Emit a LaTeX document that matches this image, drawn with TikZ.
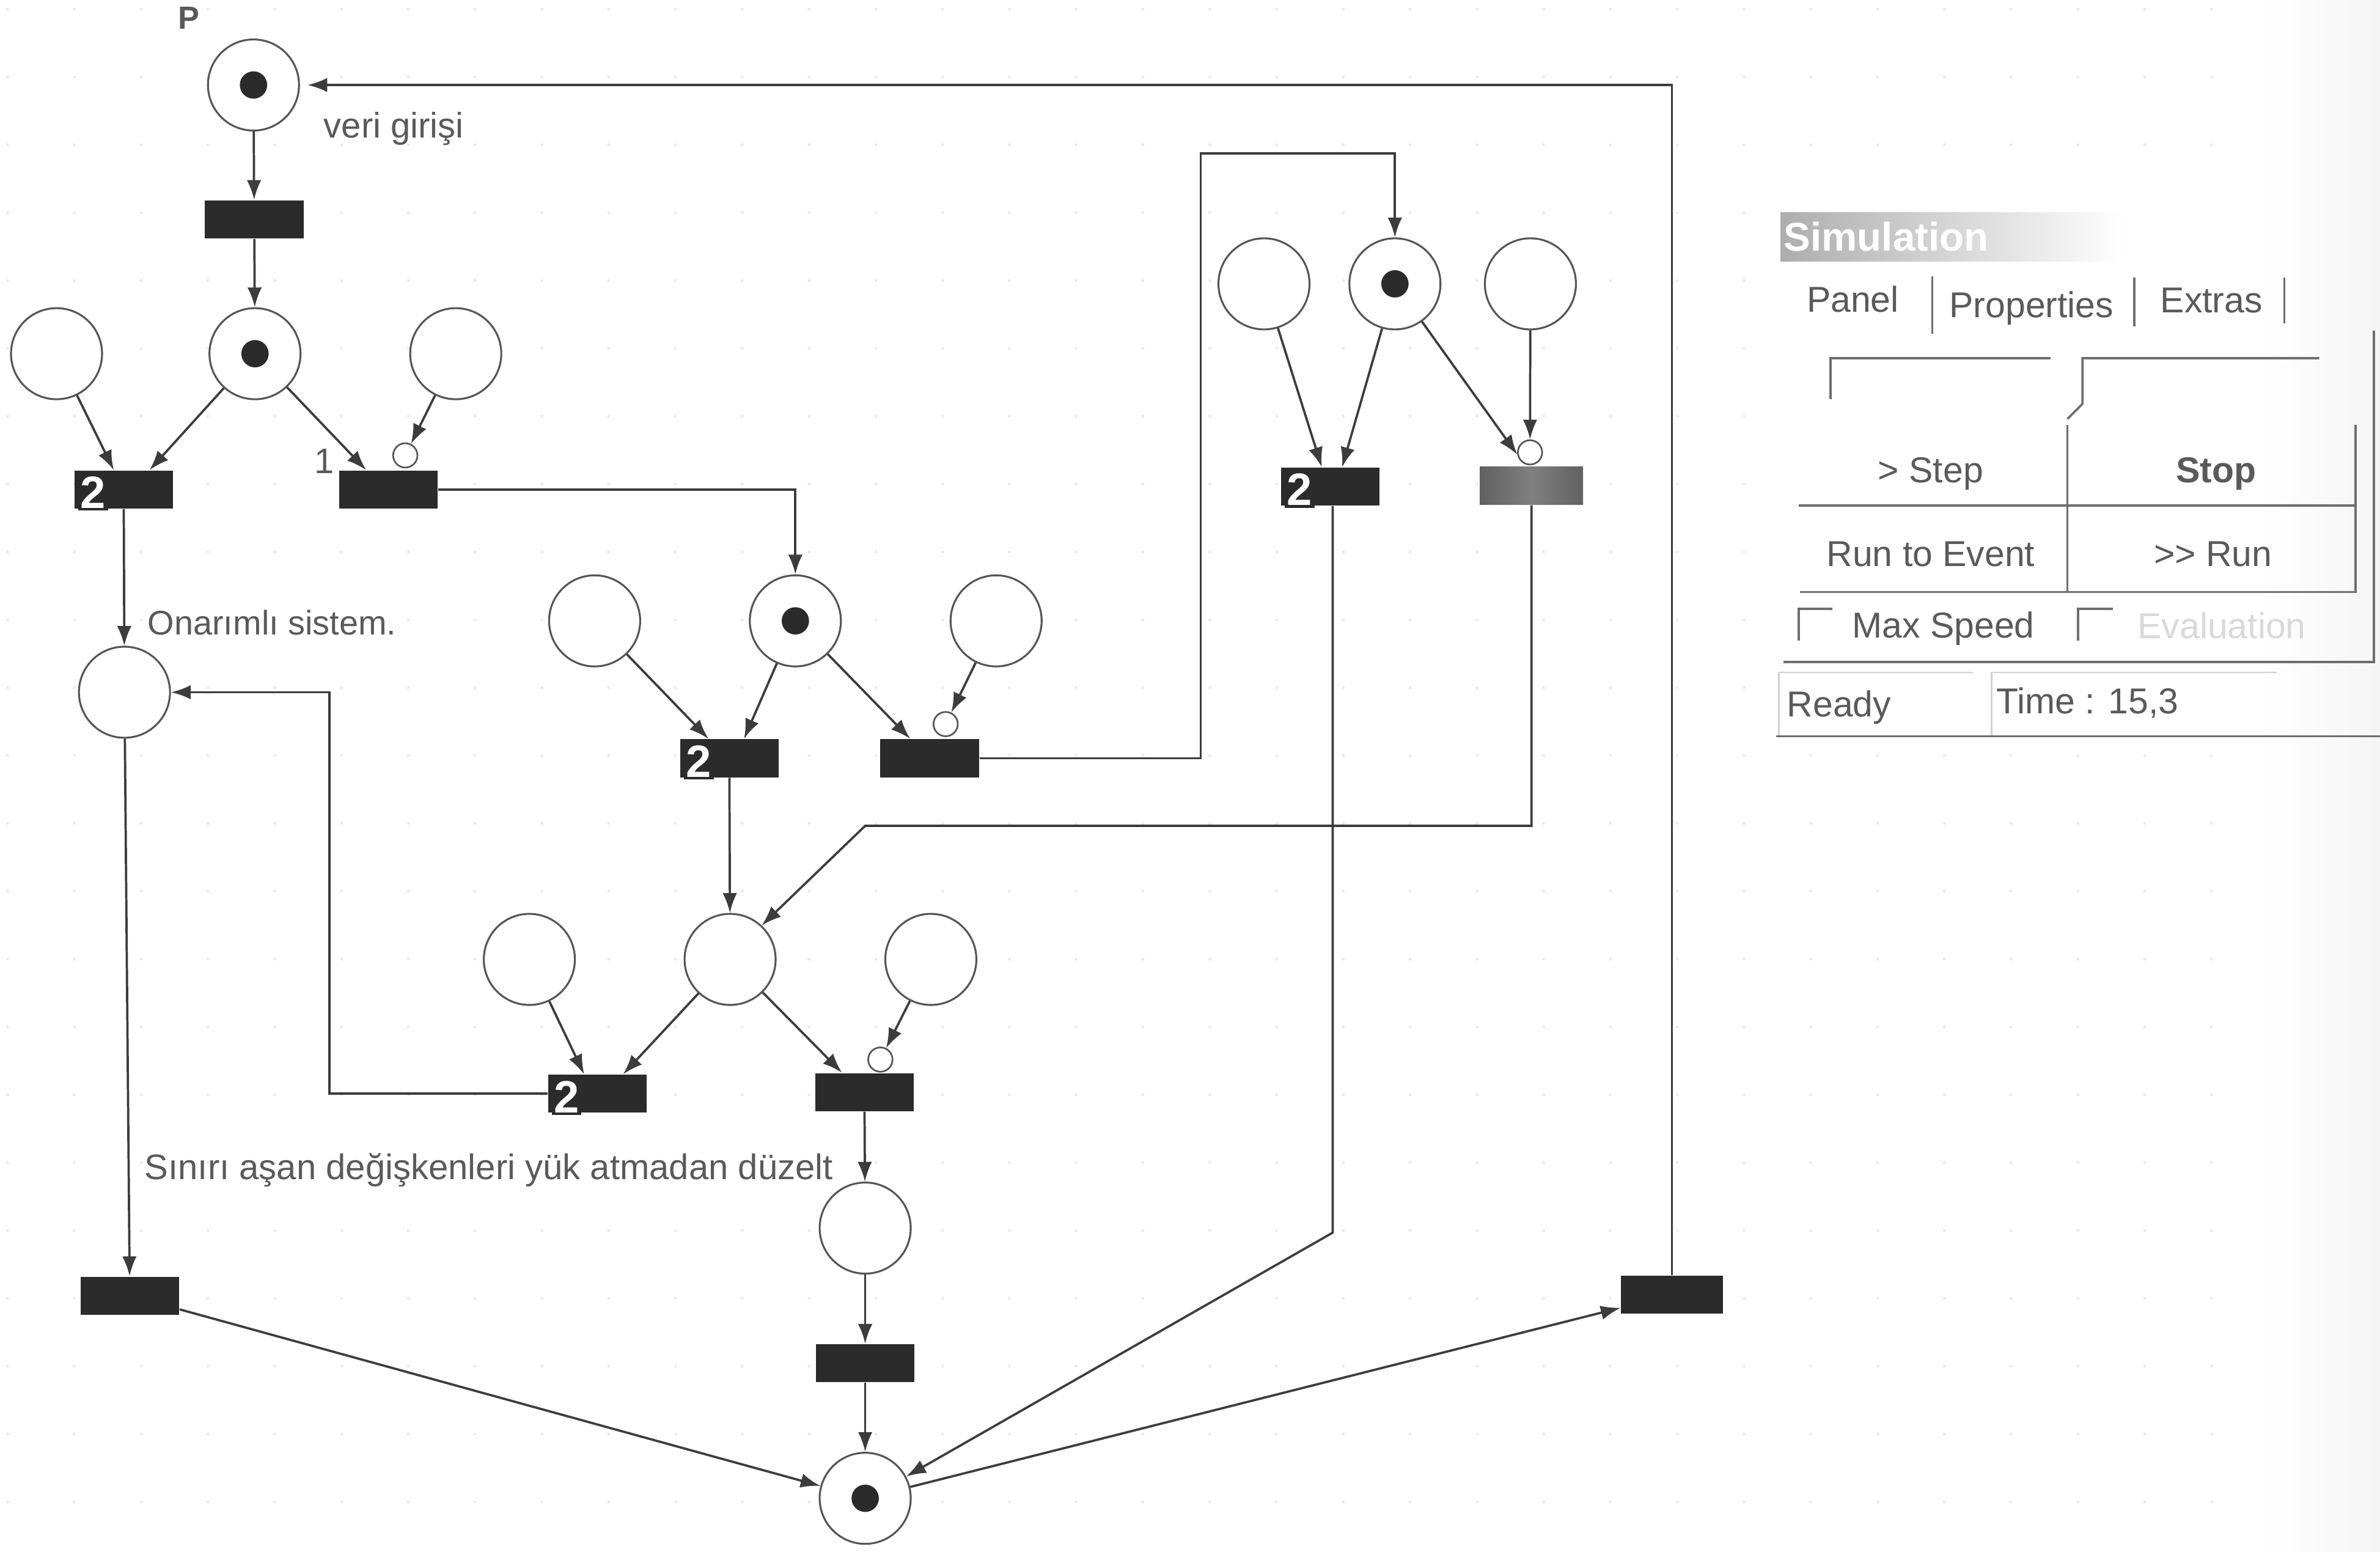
\documentclass[tikz,border=0pt]{standalone}
\usepackage{fontspec}
\setmainfont{Liberation Sans}
\usepackage{xcolor}
\usepackage{tikz}
\usetikzlibrary{arrows.meta,positioning,calc}
\definecolor{InkDark}{HTML}{2B2B2B}
\definecolor{LineGray}{HTML}{3C3C3C}
\definecolor{RimGray}{HTML}{555555}
\definecolor{TextGray}{HTML}{5A5A5A}
\definecolor{PanelGray}{HTML}{6E6E6E}

\begin{document}
\begin{tikzpicture}[
    x=0.2mm, y=-0.2mm,
    font=\fontsize{13.3}{15}\selectfont,
    place/.style={draw=RimGray, circle, line width=0.25mm, minimum size=12mm, inner sep=0pt, fill=white},
    tok/.style={circle, fill=InkDark, minimum size=3.6mm, inner sep=0pt},
    trans/.style={draw=none, fill=InkDark, minimum width=13mm, minimum height=5mm, inner sep=0pt},
    inh/.style={draw=RimGray, circle, line width=0.22mm, minimum size=3.2mm, inner sep=0pt, fill=white},
    twotag/.style={fill=InkDark, text=white, font=\fontsize{17}{17}\selectfont\bfseries, inner sep=0.3mm, anchor=west, xshift=0.5mm, yshift=-0.4mm},
    note/.style={text=TextGray, inner sep=0pt, anchor=west},
    btn/.style={text=TextGray, inner sep=0pt, font=\fontsize{13.5}{16}\selectfont},
    arr/.style={-{Latex[length=2.6mm, width=1.9mm]}, line width=0.3mm, draw=LineGray},
    rim/.style={line width=0.3mm, draw=PanelGray},
    faint/.style={line width=0.2mm, draw=black!18}
]
\path[use as bounding box] (0,0) rectangle (1568,1022);
\foreach \i in {0,...,35}{
  \foreach \j in {0,...,22}{
    \fill[black!8] ({5+44*\i},{6+44.7*\j}) circle (1);
  }
}
\fill[white] (1170,135) rectangle (1568,490);
\shade[left color=white, right color=black!4] (1490,0) rectangle (1568,1022);

% places
\node[place] (p0) at (167,56) {};
\node[place] (p1) at (168,233) {};
\node[place, left=13.9mm of p1] (p1l) {};
\node[place, right=14.2mm of p1] (p1r) {};
\node[place] (p7) at (82,456) {};
\node[place] (p2) at (524,409) {};
\node[place, left=14.2mm of p2] (p2l) {};
\node[place, right=14.2mm of p2] (p2r) {};
\node[place] (p4) at (919,187) {};
\node[place, left=5mm of p4] (p4l) {};
\node[place, right=5.6mm of p4] (p4r) {};
\node[place] (p3) at (481,632) {};
\node[place, left=14.2mm of p3] (p3l) {};
\node[place, right=14.2mm of p3] (p3r) {};
\node[place] (p5) at (570,809) {};
\node[place] (p6) at (570,987) {};
\foreach \x in {p0,p1,p2,p4,p6}{\node[tok] (tok\x) at (\x) {};}

% transitions
\node[trans] (t0) at (167.5,144.5) {};
\node[trans] (t1) at (81.5,322.5) {};
\node[trans] (t2) at (256,322.5) {};
\node[trans] (t3) at (480.5,499.5) {};
\node[trans] (t4) at (612.5,499.5) {};
\node[trans] (t5) at (876.5,320.5) {};
\node[trans, left color=black!62, right color=black!62, middle color=black!50, minimum width=13.6mm] (t6) at (1009,320) {};
\node[trans] (t7) at (393.5,720.5) {};
\node[trans] (t8) at (569.5,719.5) {};
\node[trans] (t9) at (85.5,853.5) {};
\node[trans] (t10) at (570,898) {};
\node[trans, minimum width=13.4mm] (t11) at (1101.5,853) {};
\foreach \x in {t1,t3,t5,t7}{\node[twotag] (two\x) at (\x.west) {2};}

\node[inh] (i1) at (267,300) {};
\node[inh] (i2) at (623,477) {};
\node[inh] (i3) at (1008,298) {};
\node[inh] (i4) at (580,698) {};

% arcs
\coordinate (c1) at (791,101);
\coordinate (c2) at (570,544);
\coordinate (c3) at (217,456);
\coordinate (c4) at (878,812);
\draw[arr] (p0) -- (t0);
\draw[arr] (t0) -- (p1);
\draw[arr] (p1l) -- (t1.117);
\draw[arr] (p1) -- (t1.37);
\draw[arr] (p1) -- (t2.139);
\draw[arr] (p1r) -- (i1);
\draw[arr] (t1) -- (p7);
\draw[arr] (t2) -| (p2);
\draw[arr] (p2l) -- (t3.137);
\draw[arr] (p2) -- (t3.53);
\draw[arr] (p2) -- (t4.135);
\draw[arr] (p2r) -- (i2);
\draw[arr] (t4) -| (c1) -| (p4);
\draw[arr] (p4l) -- (t5.114);
\draw[arr] (p4) -- (t5.59);
\draw[arr] (p4) -- (i3.190);
\draw[arr] (p4r) -- (i3);
\draw[arr] (t3) -- (p3);
\draw[arr] (t6) |- (c2) -- (p3.47);
\draw[arr] (p3l) -- (t7.124);
\draw[arr] (p3) -- (t7.37);
\draw[arr] (p3) -- (t8.139);
\draw[arr] (p3r) -- (i4);
\draw[arr] (t7) -| (c3) -- (p7);
\draw[arr] (t8) -- (p5);
\draw[arr] (p5) -- (t10);
\draw[arr] (t10) -- (p6);
\draw[arr] (p7) -- (t9);
\draw[arr] (t9) -- (p6);
\draw[arr] (t5.south -| c4) -- (c4) -- (p6.28);
\draw[arr] (p6) -- (t11);
\draw[arr, shorten >=1mm] (t11) |- (p0);

% labels
\node[note, font=\fontsize{12}{14}\selectfont\bfseries] (lp) at (117,12) {P};
\node[note] (lveri) at (213,85) {veri girişi};
\node[note] (lone) at (207,304) {1};
\node[note, font=\fontsize{12.8}{15}\selectfont] (lona) at (97,410) {Onarımlı sistem.};
\node[note] (lsin) at (95,771) {Sınırı aşan değişkenleri yük atmadan düzelt};

% simulation panel
\shade[left color=black!32, right color=white, draw=none] (1173,140) rectangle (1400,172);
\node[note, text=white, font=\fontsize{15}{17}\selectfont\bfseries] (ltitle) at (1175,156) {Simulation};
\node[btn, anchor=west] (lpanel) at (1190,197) {Panel};
\node[btn, anchor=west] (lprop) at (1284,203) {Properties};
\node[btn, anchor=west] (lextra) at (1423,198) {Extras};
\draw[rim] (1273,182) -- (1273,220);
\draw[rim] (1406,183) -- (1406,215);
\draw[rim] (1505,183) -- (1505,213);
\draw[rim] (1206,263) -- (1206,236) -- (1351,236);
\draw[rim] (1362,276) -- (1372,266) -- (1372,236) -- (1528,236);
\draw[rim] (1362,280) -- (1362,390);
\draw[rim] (1552,280) -- (1552,390) -- (1186,390);
\draw[rim] (1185,333) -- (1552,333);
\draw[rim] (1564,218) -- (1564,436) -- (1175,436);
\node[btn] (lstep) at (1272,312) {> Step};
\node[btn, font=\fontsize{13.5}{16}\selectfont\bfseries] (lstop) at (1460,312) {Stop};
\node[btn] (lrun) at (1272,365) {Run to Event};
\node[btn] (lfast) at (1458,365) {>{}> Run};
\draw[rim] (1185,422) -- (1185,401) -- (1207,401);
\draw[rim] (1369,422) -- (1369,401) -- (1392,401);
\node[btn, anchor=west] (lmax) at (1220,414) {Max Speed};
\node[btn, anchor=west, text=black!15] (leval) at (1408,412) {Evaluation};
\draw[faint] (1172,485) -- (1172,443) -- (1300,443);
\draw[faint] (1312,485) -- (1312,443) -- (1500,443);
\draw[rim] (1170,485) -- (1568,485);
\node[btn, anchor=west] (lready) at (1177,466) {Ready};
\node[btn, anchor=west] (ltime) at (1315,463) {Time : 15,3};
\end{tikzpicture}
\end{document}
